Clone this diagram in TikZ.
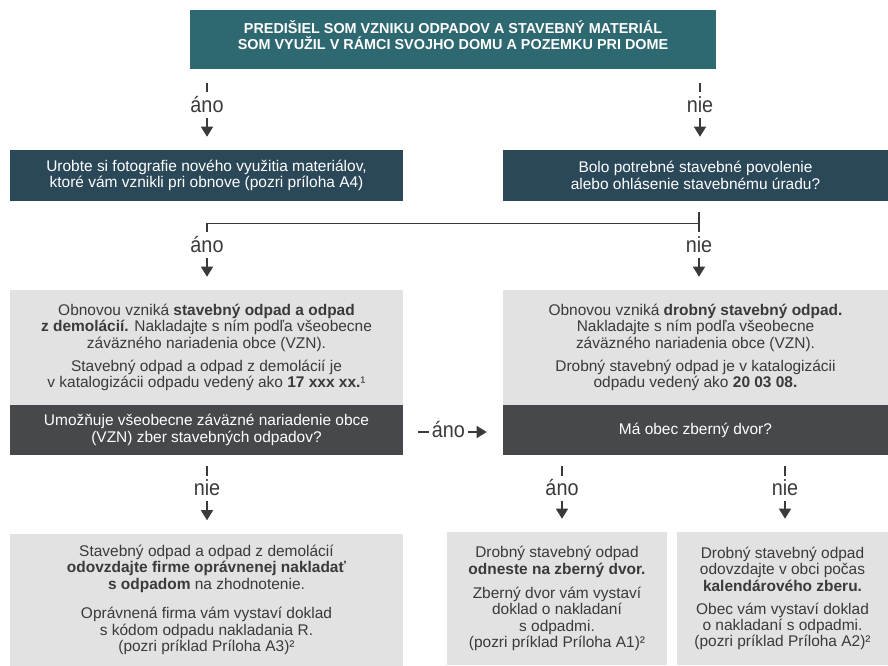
\documentclass[tikz,border=0pt]{standalone}
\usepackage{fontspec}
\setmainfont{Liberation Sans}
\newfontfamily\condfont{Liberation Sans}[FakeStretch=0.9]
\usetikzlibrary{arrows.meta,calc}
\def\pxu{0.75pt}
\definecolor{tealtop}{RGB}{46,104,112}
\definecolor{slate}{RGB}{42,72,88}
\definecolor{greyfill}{RGB}{226,226,226}
\definecolor{darkq}{RGB}{70,72,76}
\definecolor{ink}{RGB}{58,58,58}
\tikzset{
	topbox/.style={fill=tealtop, inner sep=0},
	toptext/.style={text=white, inner sep=0, align=center, font=\bfseries\fontsize{10.8}{12}\selectfont},
	askbox/.style={fill=slate, text=white, inner sep=0, align=center, font=\fontsize{11.6}{12.5}\selectfont},
	greybox/.style={fill=greyfill, text=ink, inner sep=0, align=center, font=\fontsize{11.6}{12.3}\selectfont},
	darkbox/.style={fill=darkq, text=white, inner sep=0, align=center, font=\fontsize{11.6}{12.5}\selectfont},
	lbl/.style={text=ink, inner sep=0, anchor=base, font=\condfont\fontsize{16.5}{16.5}\selectfont},
	tick/.style={draw=ink, line width=0.9pt},
	arr/.style={tick, -{Triangle[width=9pt,length=7.5pt]}}
}

\begin{document}
\begin{tikzpicture}[x=0.75pt, y=-0.75pt]
			%%%%% START %%%%%
			\useasboundingbox (0,0) rectangle (888,665);
			
			\node[topbox, minimum width=526*\pxu, minimum height=59*\pxu] (top) at (453,39.5) {};
			\node[toptext] (toptitle) at (453,35.5)
				{PREDIŠIEL SOM VZNIKU ODPADOV A STAVEBNÝ MATERIÁL\\SOM VYUŽIL V RÁMCI SVOJHO DOMU A POZEMKU PRI DOME};
			
			\node[askbox, minimum width=393*\pxu, minimum height=51*\pxu] (foto) at (206.5,175.5)
				{Urobte si fotografie nového využitia materiálov,\\ktoré vám vznikli pri obnove (pozri príloha A4)};
			\node[askbox, minimum width=385*\pxu, minimum height=51*\pxu] (povol) at (695.5,175.5)
				{Bolo potrebné stavebné povolenie\\alebo ohlásenie stavebnému úradu?};
			
			\node[greybox, minimum width=393*\pxu, minimum height=115*\pxu] (demol) at (206.5,347.5)
				{Obnovou vzniká \textbf{stavebný odpad a odpad}\\\textbf{z demolácií.} Nakladajte s ním podľa všeobecne\\záväzného nariadenia obce (VZN).\\[5pt]Stavebný odpad a odpad z demolácií je\\v katalogizácii odpadu vedený ako \textbf{17 xxx xx.}¹};
			\node[darkbox, minimum width=393*\pxu, minimum height=50*\pxu] (vzn) at (206.5,430)
				{Umožňuje všeobecne záväzné nariadenie obce\\(VZN) zber stavebných odpadov?};
			
			\node[greybox, minimum width=385*\pxu, minimum height=115*\pxu] (drobny) at (695.5,347.5)
				{Obnovou vzniká \textbf{drobný stavebný odpad.}\\Nakladajte s ním podľa všeobecne\\záväzného nariadenia obce (VZN).\\[5pt]Drobný stavebný odpad je v katalogizácii\\odpadu vedený ako \textbf{20 03 08.}};
			\node[darkbox, minimum width=385*\pxu, minimum height=50*\pxu] (dvor) at (695.5,430)
				{Má obec zberný dvor?};
			
			\node[greybox, minimum width=393*\pxu, minimum height=133*\pxu] (firma) at (206.5,600)
				{Stavebný odpad a odpad z demolácií\\\textbf{odovzdajte firme oprávnenej nakladať}\\\textbf{s odpadom} na zhodnotenie.\\[10pt]Oprávnená firma vám vystaví doklad\\s kódom odpadu nakladania R.\\(pozri príklad Príloha A3)²};
			\node[greybox, minimum width=220*\pxu, minimum height=133*\pxu] (zberdvor) at (557,598.5)
				{Drobný stavebný odpad\\\textbf{odneste na zberný dvor.}\\[6pt]Zberný dvor vám vystaví\\doklad o nakladaní\\s odpadmi.\\(pozri príklad Príloha A1)²};
			\node[greybox, minimum width=211*\pxu, minimum height=133*\pxu] (kalendar) at (782.5,598.5)
				{Drobný stavebný odpad\\odovzdajte v obci počas\\\textbf{kalendárového zberu.}\\[5pt]Obec vám vystaví doklad\\o nakladaní s odpadmi.\\(pozri príklad Príloha A2)²};
			
			% labels
			\node[lbl] (ano1) at (207,112.5) {áno};
			\node[lbl] (nie1) at (700,112.5) {nie};
			\node[lbl] (ano2) at (207,252.5) {áno};
			\node[lbl] (nie2) at (699,252.5) {nie};
			\node[lbl] (nie3) at (207,495.5) {nie};
			\node[lbl] (ano3) at (562,495.5) {áno};
			\node[lbl] (nie4) at (785,495.5) {nie};
			
			% top -> row 2
			\draw[tick] ($(top.south -| ano1)+(0,14)$) -- ++(0,9);
			\draw[tick] ($(top.south -| nie1)+(0,14)$) -- ++(0,9);
			\draw[arr] ($(ano1.base)+(0,5.5)$) -- ($(foto.north -| ano1)+(0,-13)$);
			\draw[arr] ($(nie1.base)+(0,5.5)$) -- ($(povol.north -| nie1)+(0,-13)$);
			
			% row 2 -> row 3
			\coordinate (join) at ($(povol.south -| nie2)+(0,22)$);
			\draw[tick] ($(povol.south -| nie2)+(0,11)$) -- ($(nie2.base)+(0,-20.5)$);
			\draw[tick] (join) -- (join -| ano2) -- ($(ano2.base)+(0,-20.5)$);
			\draw[arr] ($(ano2.base)+(0,5.5)$) -- ($(demol.north -| ano2)+(0,-13)$);
			\draw[arr] ($(nie2.base)+(0,5.5)$) -- ($(drobny.north -| nie2)+(0,-13)$);
			
			% vzn -> dvor
			\draw[arr] ($(vzn.east)+(15,2)$) -- node[lbl, fill=white, inner xsep=2pt, pos=0.44, yshift=-4.1pt] (ano4) {áno} ($(dvor.west)+(-16,2)$);
			
			% row 4 -> row 5
			\draw[tick] ($(vzn.south -| nie3)+(0,11)$) -- ++(0,10);
			\draw[tick] ($(dvor.south -| ano3)+(0,11)$) -- ++(0,10);
			\draw[tick] ($(dvor.south -| nie4)+(0,11)$) -- ++(0,10);
			\draw[arr] ($(nie3.base)+(0,5.5)$) -- ($(firma.north -| nie3)+(0,-13)$);
			\draw[arr] ($(ano3.base)+(0,5.5)$) -- ($(zberdvor.north -| ano3)+(0,-13)$);
			\draw[arr] ($(nie4.base)+(0,5.5)$) -- ($(kalendar.north -| nie4)+(0,-13)$);
			%%%%% END %%%%%
\end{tikzpicture}
\end{document}
